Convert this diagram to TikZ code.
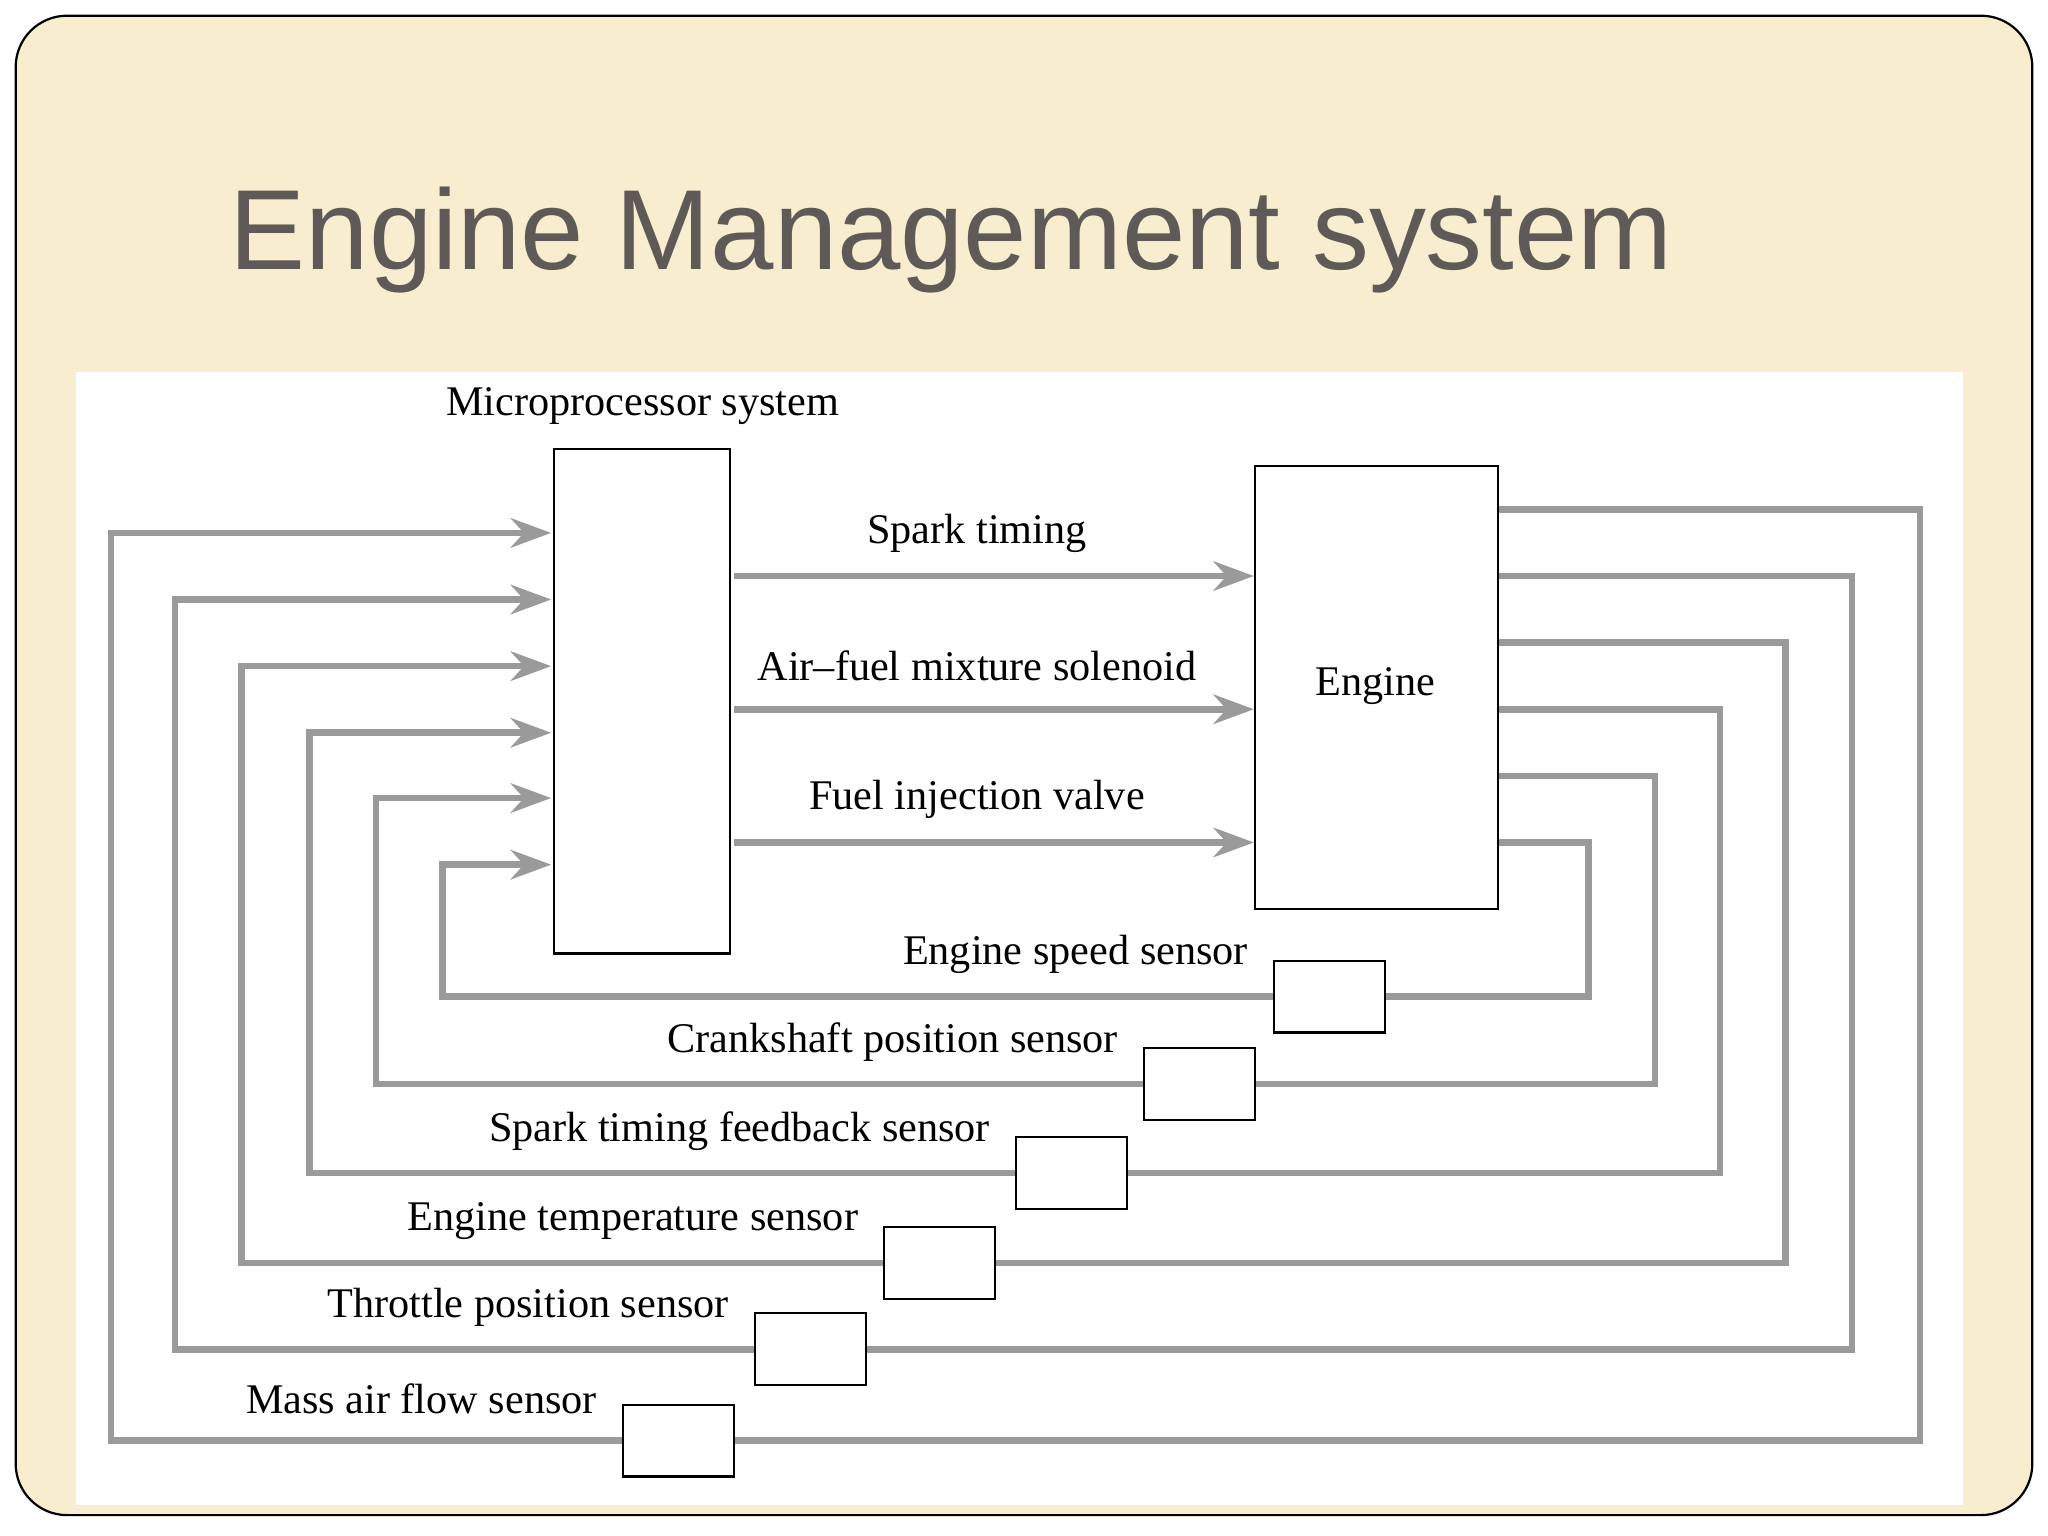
\documentclass[tikz,border=0pt]{standalone}
\usepackage{fontspec}
\setmainfont{Liberation Serif}
\newfontfamily\titlefont{Liberation Sans}
\usetikzlibrary{arrows.meta}
\definecolor{cream}{HTML}{F8EDCF}
\definecolor{ln}{HTML}{9A9A9A}
\definecolor{tgray}{HTML}{5F5A58}
\begin{document}
\begin{tikzpicture}[x=0.0125cm,y=-0.0125cm,
  wire/.style={ln,line width=1.8pt},
  arr/.style={wire,-{Stealth[length=11pt,width=8pt]}},
  box/.style={draw=black,line width=0.6pt,fill=white,inner sep=0pt},
  lab/.style={font=\fontsize{11.5}{13}\selectfont,inner sep=0pt}]
\useasboundingbox (0,0) rectangle (1568,1176);
\draw[fill=cream,draw=black,line width=0.6pt,rounded corners=14pt] (12,12) rectangle (1556,1160);
\node[font=\titlefont\fontsize{31}{36}\selectfont,text=tgray,anchor=west] (title) at (166,184) {Engine Management system};
\fill[white] (58,285) rectangle (1503,1152);
\node[box,minimum width=135*0.0125cm,minimum height=386*0.0125cm] (micro) at (491.5,537) {};
\node[box,minimum width=186*0.0125cm,minimum height=339*0.0125cm] (engine) at (1054,526.5) {};
\node[lab] at (1053,525) {Engine};
\node[lab] (mlab) at (492,311) {Microprocessor system};
\foreach \y/\t in {441/Spark timing,543/Air--fuel mixture solenoid,645/Fuel injection valve}{
  \coordinate (o1) at (562,\y); \coordinate (o2) at (960,\y);
  \draw[arr] (o1) -- (o2);
  \node[lab] at (748,\y-33) {\t};
}
\foreach \iy/\lx/\by/\ey/\rx/\bx/\t in {
  408/85/1103/390/1470/519.5/Mass air flow sensor,
  459/134/1033/441/1418/620.5/Throttle position sensor,
  510/185/967/492/1367/719.5/Engine temperature sensor,
  561/237/898/543/1317/820.5/Spark timing feedback sensor,
  611/288/830/594/1267/918.5/Crankshaft position sensor,
  662/339/763/645/1216/1018/Engine speed sensor}{
  \coordinate (e) at (1148,\ey);
  \coordinate (i) at (422,\iy);
  \draw[wire] (e) -- (\rx,\ey) -- (\rx,\by) -- (\lx,\by) -- (\lx,\iy) -- (405,\iy);
  \draw[arr] (380,\iy) -- (i);
  \node[box,minimum width=85*0.0125cm,minimum height=55*0.0125cm] (s) at (\bx,\by) {};
  \node[lab,anchor=east] at (\bx-62,\by-32) {\t};
}
\end{tikzpicture}
\end{document}
